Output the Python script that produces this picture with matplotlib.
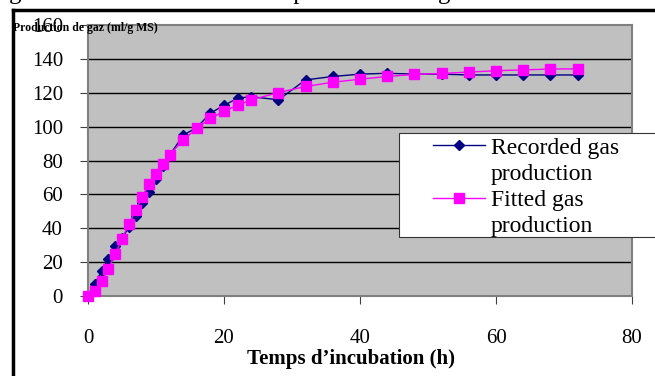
import matplotlib.pyplot as plt
from matplotlib.lines import Line2D
from matplotlib.patches import Rectangle

# incubation time (h)
hours = [0, 1, 2, 3, 4, 5, 6, 7, 8, 9, 10, 11, 12, 14, 16, 18, 20, 22, 24,
         28, 32, 36, 40, 44, 48, 52, 56, 60, 64, 68, 72]

recorded = [0, 7, 15, 22, 29.7, 34, 40.5, 47.4, 54.7, 61.2, 69.3, 77, 83,
            95, 99.4, 108, 112.5, 116.8, 117.7, 115.8, 127.6, 129.6, 131,
            131.5, 131, 131, 130.5, 130.5, 130.5, 130.5, 130.5]

fitted = [0, 3, 8.9, 16, 24.8, 33.7, 42.5, 50.8, 58.7, 66, 72.3, 77.8, 83.3,
          92.1, 99, 104.8, 109.1, 112.6, 115.8, 120.1, 123.7, 126.2, 128,
          129.6, 130.8, 131.4, 132.2, 133, 133.5, 134, 134.1]

xticks = [0, 20, 40, 60, 80]
yticks = [0, 20, 40, 60, 80, 100, 120, 140, 160]

serif = ['Liberation Serif', 'DejaVu Serif']
plt.rcParams['font.family'] = serif

fig = plt.figure(figsize=(6.55, 3.76), dpi=100)
ax = fig.add_axes([88 / 655, 1 - 296 / 376, 544 / 655, 271 / 376])

ax.set_facecolor('#c0c0c0')
for y in yticks[1:-1]:
    ax.axhline(y, color='black', lw=1, zorder=1)

ax.plot(hours, recorded, color='#000080', lw=1, marker='D', ms=5.5,
        zorder=3, clip_on=False)
ax.plot(hours, fitted, color='#ff00ff', lw=1, marker='s', ms=7,
        zorder=4, clip_on=False)

ax.set_xlim(0, 80)
ax.set_ylim(0, 160)
ax.set_xticks(xticks)
ax.set_yticks(yticks)
ax.tick_params(axis='both', labelsize=15, direction='out', length=6,
               color='#404040')
ax.tick_params(axis='y', pad=12)
ax.tick_params(axis='x', pad=18)
for s in ax.spines.values():
    s.set_color('#808080')
    s.set_linewidth(1.5)

ax.set_xlabel("Temps d\u2019incubation (h)", fontsize=15, fontweight='bold')
ax.xaxis.set_label_coords(0.483, -0.195)
fig.text(13 / 655, 1 - 28 / 376, 'Production de gaz (ml/g MS)', fontsize=8.5,
         fontweight='bold', va='center', ha='left')

# legend box, running off the right edge
fig.add_artist(Rectangle((399 / 655, 1 - 237 / 376), 300 / 655, 104 / 376,
                         transform=fig.transFigure, facecolor='white',
                         edgecolor='#333333', lw=0.8, zorder=5))
blank = Line2D([], [], color='none')
h1 = Line2D([], [], color='#000080', lw=1, marker='D', ms=5)
h2 = Line2D([], [], color='#ff00ff', lw=1, marker='s', ms=7)
leg = fig.legend([h1, blank, h2, blank],
                 ['Recorded gas', 'production', 'Fitted gas', 'production'],
                 loc='upper left', bbox_to_anchor=(433 / 655, 1 - 137 / 376),
                 fontsize=17, frameon=False, labelspacing=0.2,
                 handlelength=2.2, handletextpad=0.25, borderpad=0,
                 borderaxespad=0)
leg.set_zorder(6)

# outer frame of the figure box
fig.add_artist(Line2D([13 / 655, 13 / 655], [0, 1 - 10 / 376], color='black',
                      lw=2.5, transform=fig.transFigure))
fig.add_artist(Line2D([13 / 655, 1], [1 - 10 / 376, 1 - 10 / 376],
                      color='black', lw=2.5, transform=fig.transFigure))

# caption above, only its descenders show
fig.text(-12 / 655, 1 + 1 / 376,
         'Figure 2 : Courbe cumulée de production de gaz',
         fontsize=18, va='baseline', ha='left')

fig.savefig('out.png', dpi=100)
